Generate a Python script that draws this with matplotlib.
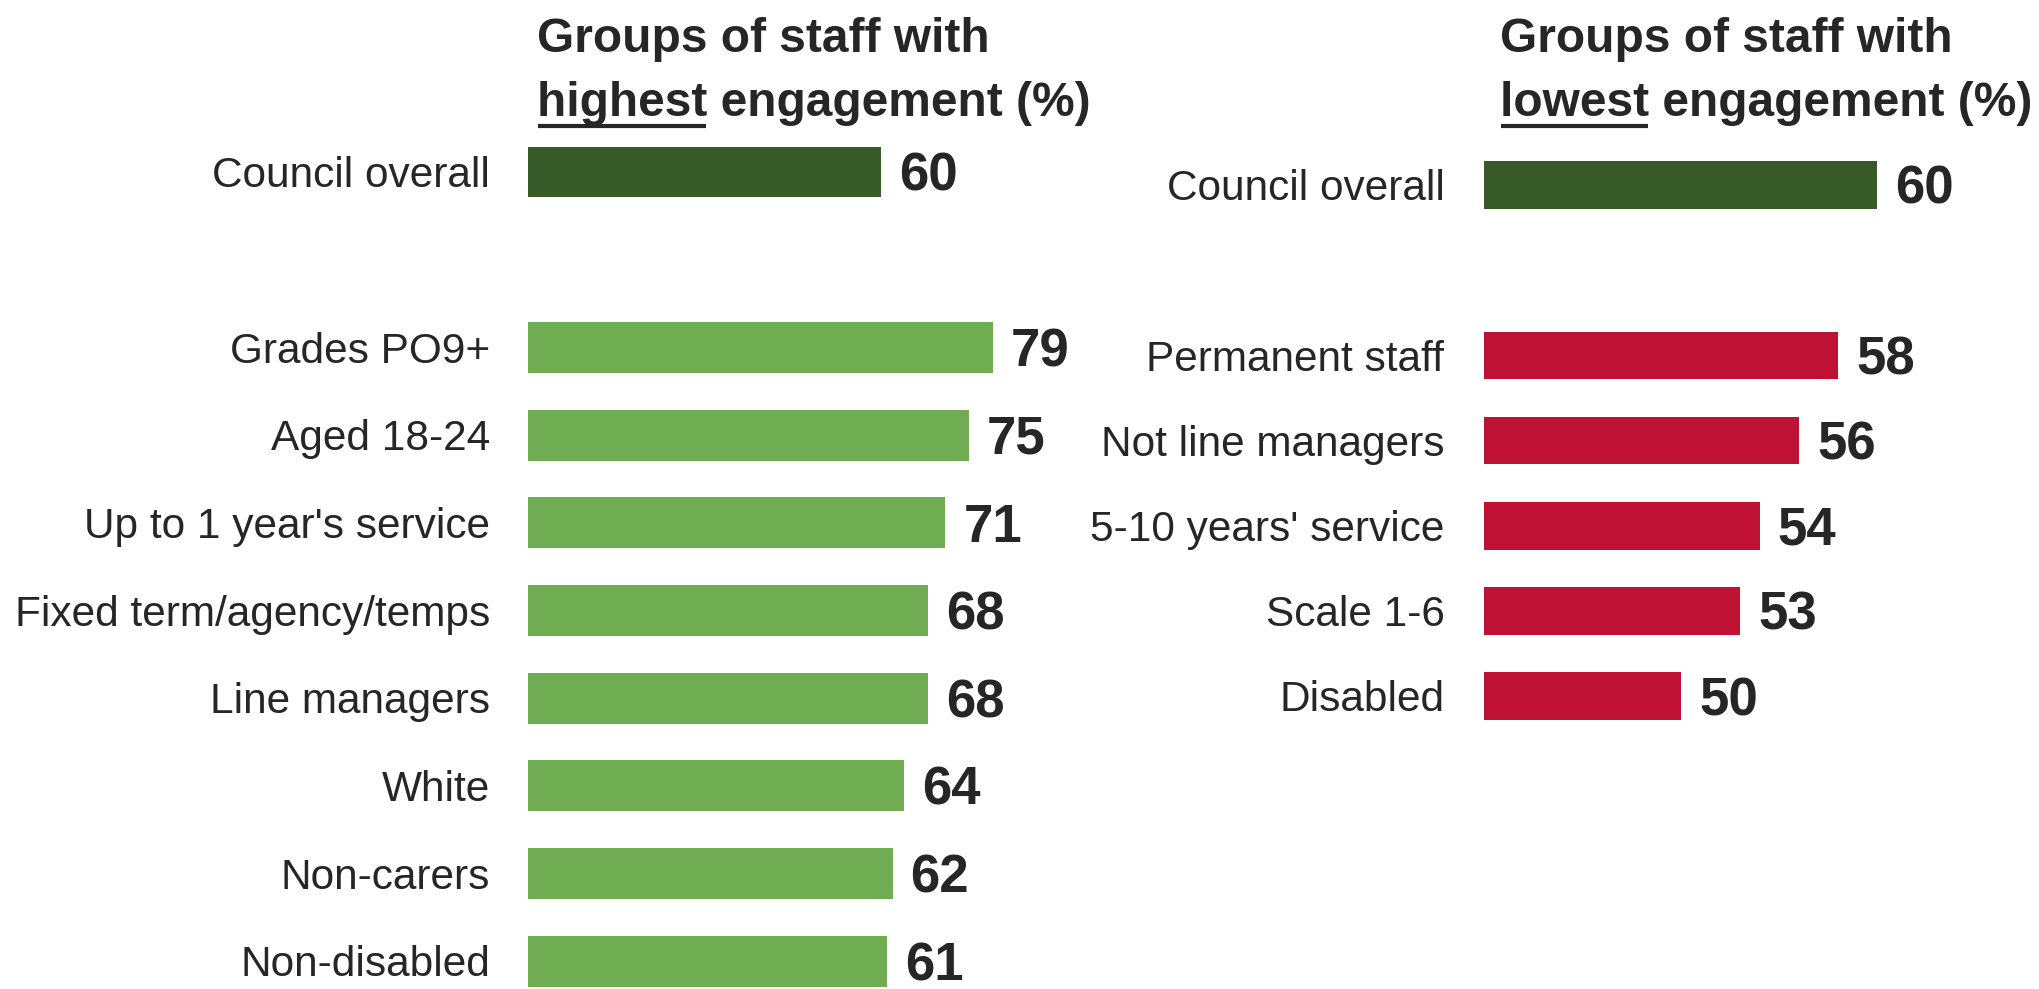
import matplotlib
matplotlib.use("Agg")
import matplotlib.pyplot as plt
from matplotlib.transforms import offset_copy, blended_transform_factory, IdentityTransform
from matplotlib.lines import Line2D

# Engagement scores (%) by staff group
high_labels = ["Council overall", "Grades PO9+", "Aged 18-24", "Up to 1 year's service",
               "Fixed term/agency/temps", "Line managers", "White", "Non-carers", "Non-disabled"]
high_values = [60, 79, 75, 71, 68, 68, 64, 62, 61]

low_labels = ["Council overall", "Permanent staff", "Not line managers",
              "5-10 years' service", "Scale 1-6", "Disabled"]
low_values = [60, 58, 56, 54, 53, 50]

DARK_GREEN = "#385a28"
LIGHT_GREEN = "#70ad52"
RED = "#be1133"
TEXT = "#262626"

plt.rcParams["font.family"] = ["Liberation Sans", "DejaVu Sans"]

W, H = 2040, 989
fig = plt.figure(figsize=(W / 100, H / 100), dpi=100)

LABEL_SIZE = 30.5
VALUE_SIZE = 38
TITLE_SIZE = 34.5


def panel(left_px, width_px, x_start, px_per_unit, first_px, slot_px, bar_h,
          labels, values, color, label_gap):
    ax = fig.add_axes([left_px / W, 0, width_px / W, 1])
    ax.set_xlim(x_start, x_start + width_px / px_per_unit)
    ax.set_ylim((H - first_px) / slot_px, -first_px / slot_px)
    ax.axis("off")

    # Overall score sits on its own, then a gap, then the groups
    ypos = [0] + [i + 2 for i in range(len(values) - 1)]
    colors = [DARK_GREEN] + [color] * (len(values) - 1)
    ax.barh(ypos, values, height=bar_h, color=colors, left=0)

    # category names, right-aligned just left of the bars, capitals centred on bar
    lab_tr = offset_copy(blended_transform_factory(ax.transAxes, ax.transData),
                         fig=fig, x=-label_gap, y=-0.358 * LABEL_SIZE * 100 / 72,
                         units="dots")
    for y, lab, v in zip(ypos, labels, values):
        ax.text(0, y, lab, transform=lab_tr, ha="right", va="baseline",
                fontsize=LABEL_SIZE, color=TEXT)
        ax.annotate(str(v), (v, y), xytext=(13, -0.358 * VALUE_SIZE),
                    textcoords="offset points", ha="left", va="baseline",
                    fontsize=VALUE_SIZE, fontweight="bold", color=TEXT)
    return ax


panel(528, 700, 0, 5.88, 172, 87.7, 0.58, high_labels, high_values,
      LIGHT_GREEN, 38)
panel(1484.5, 520, 40, 19.65, 185, 85.2, 0.56, low_labels, low_values,
      RED, 40)


def title(x_px, word):
    kw = dict(fontsize=TITLE_SIZE, fontweight="bold", color=TEXT,
              va="baseline", ha="left")
    fig.text(x_px / W, 1 - 52 / H, "Groups of staff with", **kw)
    fig.text(x_px / W, 1 - 116 / H, word + " engagement (%)", **kw)
    probe = fig.text(x_px / W, 1 - 116 / H, word, **kw)
    bb = probe.get_window_extent(fig.canvas.get_renderer())
    probe.remove()
    y = H - 126
    fig.add_artist(Line2D([bb.x0 + 1, bb.x1 - 1], [y, y],
                          transform=IdentityTransform(),
                          color=TEXT, linewidth=3.0, solid_capstyle="butt"))


title(537, "highest")
title(1500, "lowest")

fig.savefig("out.png", dpi=100)
